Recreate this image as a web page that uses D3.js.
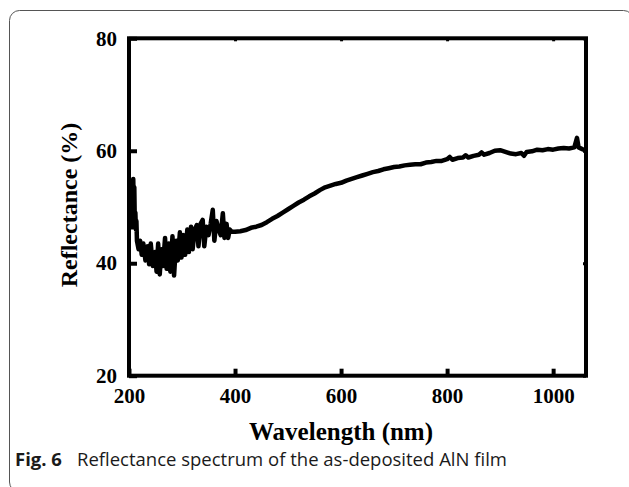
<!DOCTYPE html>
<html>
<head>
<meta charset="utf-8">
<script src="https://cdn.jsdelivr.net/npm/d3@7"></script>
<style>
  body { margin: 0; background: #fff; }
  svg { display: block; }
</style>
</head>
<body>
<div id="chart"></div>
<script>
// wavelength (nm)
const wavelength = [
  205, 206, 207, 208, 209, 210, 211, 212, 213, 214,
  215, 218, 221, 224, 227, 231, 235, 238, 241, 245,
  249, 252, 255, 258, 261, 264, 268, 271, 275, 278,
  282, 285, 289, 292, 296, 299, 303, 306, 310, 313,
  317, 320, 324, 328, 331, 335, 339, 342, 346, 350,
  354, 358, 361, 365, 369, 373, 377, 380, 384, 387,
  390, 394,
  400, 410, 420, 430, 440, 450, 460, 470, 480, 490,
  500, 510, 520, 530, 540, 550, 560, 570, 580, 590,
  600, 610, 620, 630, 640, 650, 660, 670, 680, 690,
  700, 710, 720, 730, 740, 750, 760, 770, 780, 790,
  800, 805, 810, 820, 830, 835, 840, 850, 860, 865,
  870, 880, 890, 900, 910, 920, 930, 940, 945, 950,
  960, 970, 980, 990, 1000, 1010, 1020, 1030, 1040, 1045,
  1048, 1055, 1060
];

// reflectance (%)
const reflectance = [
  46.0, 52.0, 49.0, 55.0, 50.0, 53.5, 47.0, 49.0, 46.0, 47.5,
  44.0, 42.5, 44.0, 41.5, 43.5, 40.5, 43.0, 39.8, 43.5, 39.5,
  42.0, 38.5, 43.5, 38.0, 42.5, 39.5, 44.5, 39.0, 43.5, 38.5,
  44.8, 37.8, 44.0, 40.5, 45.5, 41.0, 45.0, 41.5, 46.0, 42.0,
  46.5, 42.5, 46.0, 46.8, 43.0, 47.0, 47.7, 43.0, 46.5, 45.0,
  47.0, 49.5, 44.0, 47.5, 46.0, 45.0, 48.9, 44.5, 47.0, 44.5,
  46.0, 45.6,
  45.6, 45.7, 45.9, 46.3, 46.5, 46.8, 47.3, 47.9, 48.4, 49.0,
  49.6, 50.2, 50.8, 51.3, 51.9, 52.4, 53.0, 53.5, 53.8, 54.1,
  54.3, 54.7, 55.0, 55.3, 55.6, 55.9, 56.2, 56.4, 56.7, 56.9,
  57.1, 57.2, 57.4, 57.5, 57.6, 57.6, 57.9, 58.0, 58.2, 58.2,
  58.5, 58.9, 58.4, 58.7, 58.8, 59.2, 58.8, 59.1, 59.3, 59.7,
  59.3, 59.6, 60.0, 60.1, 59.8, 59.5, 59.4, 59.6, 59.1, 59.8,
  59.9, 60.2, 60.1, 60.3, 60.2, 60.4, 60.5, 60.4, 60.6, 62.3,
  60.6, 60.3, 60.1
];

const xTicks = [200, 400, 600, 800, 1000];
const yTicks = [20, 40, 60, 80];

const width = 629, height = 487;
const plot = {left: 129, right: 586, top: 38.3, bottom: 375.7};

const svg = d3.select('#chart').append('svg')
    .attr('width', width)
    .attr('height', height);

// caption box
svg.append('rect')
    .attr('x', 9.5)
    .attr('y', 10.5)
    .attr('width', 624)
    .attr('height', 481.5)
    .attr('rx', 10)
    .attr('fill', 'none')
    .attr('stroke', '#555')
    .attr('stroke-width', 1);

// Scales
const xScale = d3.scaleLinear()
    .domain([200, 1062])
    .range([plot.left, plot.right]);

const yScale = d3.scaleLinear()
    .domain([20, 80])
    .range([plot.bottom, plot.top]);

const serif = '"Liberation Serif", "Times New Roman", serif';

// Axes
const xAxis = d3.axisBottom(xScale)
    .tickValues(xTicks)
    .tickFormat(d3.format('d'))
    .tickSizeInner(-7)
    .tickSizeOuter(0)
    .tickPadding(12.4);

const yAxis = d3.axisLeft(yScale)
    .tickValues(yTicks)
    .tickFormat(d3.format('d'))
    .tickSizeInner(-8)
    .tickSizeOuter(0)
    .tickPadding(12);

const gx = svg.append('g')
    .attr('transform', `translate(0,${plot.bottom})`)
    .call(xAxis);

const gy = svg.append('g')
    .attr('transform', `translate(${plot.left},0)`)
    .call(yAxis);

[gx, gy].forEach(g => {
  g.select('.domain').remove();
  g.selectAll('.tick line').attr('stroke', '#000').attr('stroke-width', 4);
  g.selectAll('.tick text')
      .attr('fill', '#000')
      .style('font-family', serif)
      .style('font-weight', 'bold')
      .style('font-size', '21px');
});

// small mirrored ticks on top and right
svg.append('g')
    .attr('transform', `translate(0,${plot.top})`)
    .call(d3.axisTop(xScale).tickValues(xTicks).tickSizeInner(-3).tickSizeOuter(0).tickFormat(''))
    .call(g => g.select('.domain').remove())
    .call(g => g.selectAll('.tick line').attr('stroke', '#000').attr('stroke-width', 3));

svg.append('g')
    .attr('transform', `translate(${plot.right},0)`)
    .call(d3.axisRight(yScale).tickValues(yTicks).tickSizeInner(-3).tickSizeOuter(0).tickFormat(''))
    .call(g => g.select('.domain').remove())
    .call(g => g.selectAll('.tick line').attr('stroke', '#000').attr('stroke-width', 3));

// Draw the spectrum
const data = wavelength.map((w, i) => ({w: w, r: reflectance[i]}));

svg.append('path')
    .datum(data)
    .attr('fill', 'none')
    .attr('stroke', '#000')
    .attr('stroke-width', 4.5)
    .attr('stroke-linejoin', 'round')
    .attr('d', d3.line().x(d => xScale(d.w)).y(d => yScale(d.r)));

// frame
svg.append('rect')
    .attr('x', plot.left)
    .attr('y', plot.top)
    .attr('width', plot.right - plot.left)
    .attr('height', plot.bottom - plot.top)
    .attr('fill', 'none')
    .attr('stroke', '#000')
    .attr('stroke-width', 4);

// axis titles
svg.append('text')
    .attr('x', 341)
    .attr('y', 440)
    .attr('text-anchor', 'middle')
    .style('font-family', serif)
    .style('font-weight', 'bold')
    .style('font-size', '25px')
    .text('Wavelength (nm)');

svg.append('text')
    .attr('transform', 'translate(77,205) rotate(-90)')
    .attr('text-anchor', 'middle')
    .style('font-family', serif)
    .style('font-weight', 'bold')
    .style('font-size', '24px')
    .text('Reflectance (%)');

// caption
const cap = svg.append('text')
    .attr('x', 15)
    .attr('y', 466)
    .style('font-family', '"Open Sans", "Noto Sans", sans-serif')
    .style('font-size', '18.5px')
    .attr('fill', '#1a1a1a');

cap.append('tspan')
    .style('font-weight', 'bold')
    .text('Fig. 6');

cap.append('tspan')
    .attr('x', 77)
    .text('Reflectance spectrum of the as-deposited AlN film');
</script>
</body>
</html>
